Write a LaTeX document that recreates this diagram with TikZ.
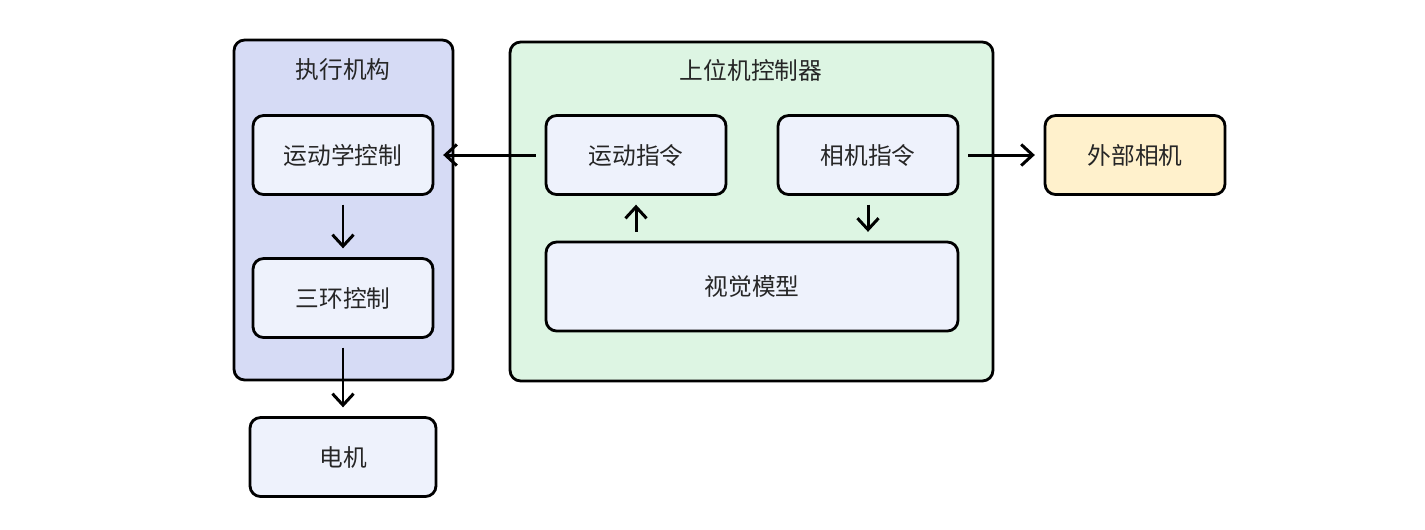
\documentclass[tikz,border=0pt]{standalone}
\usepackage{fontspec}
\setmainfont{Noto Sans CJK SC}
\usetikzlibrary{arrows.meta,positioning}
\definecolor{exefill}{HTML}{D6DBF5}
\definecolor{hostfill}{HTML}{DDF5E3}
\definecolor{cmdfill}{HTML}{EEF2FC}
\definecolor{camfill}{HTML}{FFF1CC}
\definecolor{textgray}{HTML}{262626}
\tikzset{
  group/.style={draw, line width=1.6pt, rounded corners=6pt, inner sep=0pt},
  box/.style={draw, line width=1.6pt, rounded corners=6pt, fill=cmdfill, minimum width=3.6cm, minimum height=1.58cm, inner sep=0pt, text=textgray, font=\fontsize{13.5}{16}\selectfont},
  title/.style={text=textgray, font=\fontsize{13.5}{16}\selectfont},
  arr/.style={-{Straight Barb[length=6.5pt,width=12pt]}, line width=1.7pt, shorten <=5pt, shorten >=5pt}
}
\begin{document}
\begin{tikzpicture}[x=0.02cm, y=-0.02cm]
  \useasboundingbox (0,0) rectangle (1425,529);
  % groups
  \node[group, fill=exefill, minimum width=4.38cm, minimum height=6.8cm] (exe) at (343.5,210) {};
  \node[title] (exetitle) at (343,70) {执行机构};
  \node[group, fill=hostfill, minimum width=9.66cm, minimum height=6.78cm] (host) at (751.5,211.5) {};
  \node[title] (hosttitle) at (751,70) {上位机控制器};
  % boxes
  \node[box] (kin) at (343,155) {运动学控制};
  \node[box] (loop) at (343,298) {三环控制};
  \node[box, minimum width=3.72cm] (motor) at (343,457) {电机};
  \node[box] (move) at (636,155) {运动指令};
  \node[box] (camcmd) at (868,155) {相机指令};
  \node[box, minimum width=8.24cm, minimum height=1.78cm] (vision) at (752,286.5) {视觉模型};
  \node[box, fill=camfill] (cam) at (1135,155) {外部相机};
  % arrows
  \draw[arr] (move) -- (kin);
  \draw[arr] (camcmd) -- (cam);
  \draw[arr] (kin) -- (loop);
  \draw[arr] (loop) -- (motor);
  \draw[arr] (vision.north -| move) -- (move);
  \draw[arr] (camcmd) -- (camcmd |- vision.north);
\end{tikzpicture}
\end{document}
